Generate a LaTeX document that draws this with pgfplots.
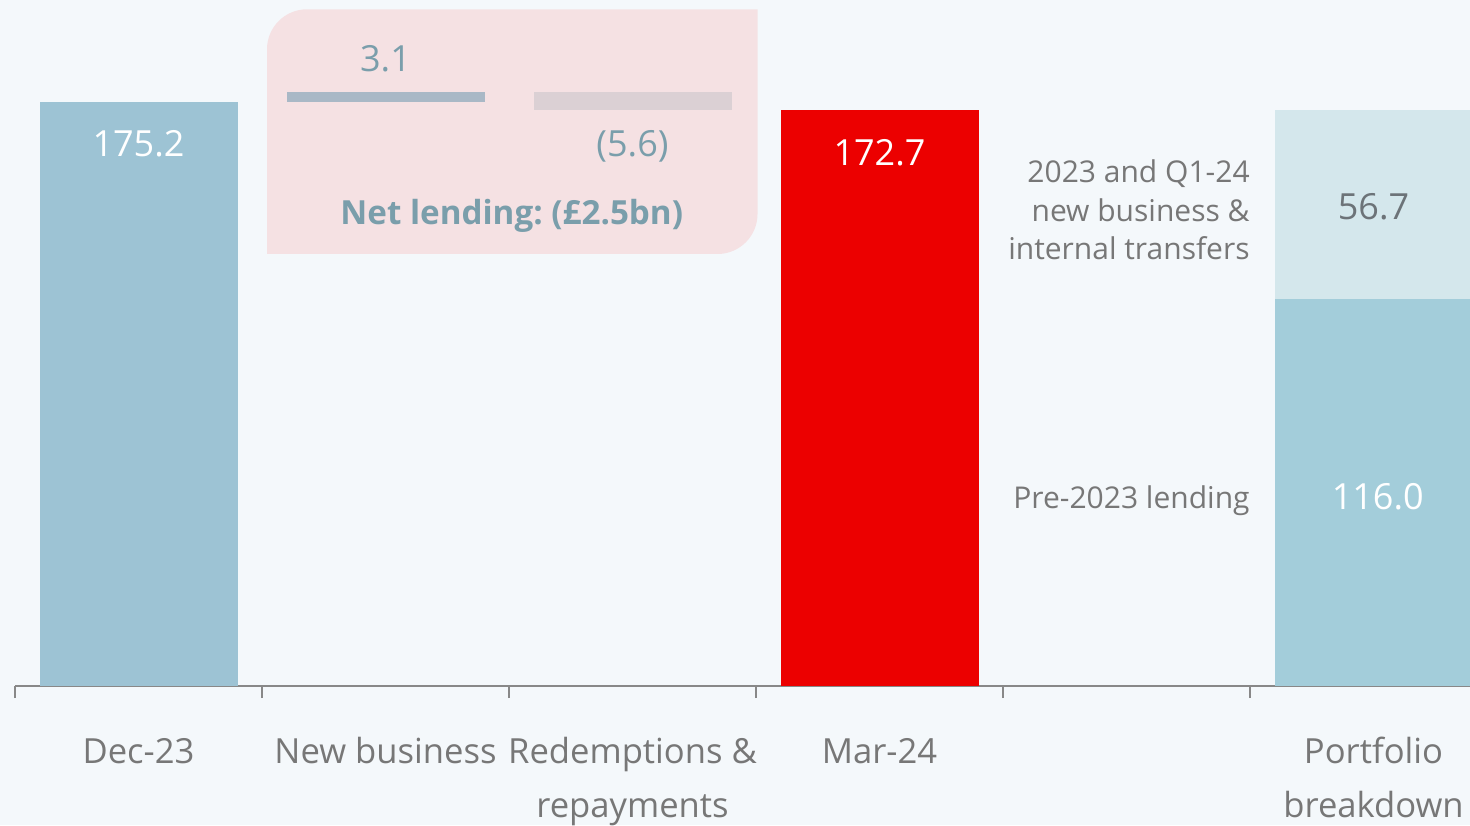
\documentclass[border=0pt]{standalone}
\usepackage{pgfplots}
\usepackage{pgfplotstable}
\pgfplotsset{compat=1.18}
\usepackage{fontspec}
\setmainfont{Open Sans}
\frenchspacing
\definecolor{bg}{HTML}{F4F8FB}
\definecolor{pinkbox}{HTML}{F5E1E3}
\definecolor{decblue}{HTML}{9DC3D4}
\definecolor{nbgray}{HTML}{A9B8C6}
\definecolor{redgray}{HTML}{DBD0D4}
\definecolor{santred}{HTML}{EC0000}
\definecolor{pflow}{HTML}{A3CDDA}
\definecolor{pfup}{HTML}{D4E7EC}
\definecolor{txtgray}{HTML}{777777}
\definecolor{axgray}{HTML}{888888}
\definecolor{tealgray}{HTML}{7A9EAB}
\definecolor{darkgray2}{HTML}{6C7378}
\pgfplotstableread{
x base dec nb red mar pfl pfu
0 0 175.2 0 0 0 0 0
1 175.2 0 3.1 0 0 0 0
2 172.7 0 0 5.6 0 0 0
3 0 0 0 0 172.7 0 0
4 0 0 0 0 0 0 0
5 0 0 0 0 0 116.0 56.7
}\data
\begin{document}
\begin{tikzpicture}
\useasboundingbox (0,0) rectangle (735pt,412.5pt);
\clip (0,0) rectangle (735pt,412.5pt);
\fill[bg] (0,0) rectangle (735pt,412.5pt);
\fill[pinkbox] (133.5pt,285.5pt) -- (133.5pt,387.85pt) arc[start angle=180,end angle=90,radius=20pt] -- (378.75pt,407.85pt) -- (378.75pt,305.5pt) arc[start angle=0,end angle=-90,radius=20pt] -- cycle;
\begin{axis}[
  at={(7.5pt,69.5pt)}, anchor=south west,
  scale only axis, width=727.5pt, height=343pt,
  xmin=-0.5, xmax=5.3907, ymin=0, ymax=205.8,
  ybar stacked, bar width=0.8016,
  axis x line*=bottom, axis y line=none,
  x axis line style={-, draw=axgray, line width=1pt},
  xtick={0,1,2,3,5},
  xticklabels={{\strut Dec-23}, {\strut New business}, {\strut Redemptions \&\\repayments}, {\strut Mar-24}, {\strut Portfolio\\breakdown}},
  minor xtick={-0.5,0.5,1.5,2.5,3.5,4.5},
  major tick length=0pt, minor tick length=6pt, tick align=outside,
  minor tick style={draw=axgray, line width=1pt},
  xticklabel style={anchor=north, inner sep=0pt, yshift=-19.6pt, align=center, text=txtgray, font=\fontsize{17.3}{27}\selectfont},
  clip=false,
]
\addplot[draw=none, fill=none] table[x=x, y=base] {\data};
\addplot[draw=none, fill=decblue] table[x=x, y=dec] {\data};
\addplot[draw=none, fill=nbgray] table[x=x, y=nb] {\data};
\addplot[draw=none, fill=redgray] table[x=x, y=red] {\data};
\addplot[draw=none, fill=santred] table[x=x, y=mar] {\data};
\addplot[draw=none, fill=pflow] table[x=x, y=pfl] {\data};
\addplot[draw=none, fill=pfup] table[x=x, y=pfu] {\data};
\coordinate (l1) at (axis cs:0,158.7);
\coordinate (l2) at (axis cs:3,156.0);
\coordinate (l3) at (axis cs:1,184.3);
\coordinate (l4) at (axis cs:2,158.8);
\coordinate (l5) at (axis cs:1.511,138.3);
\coordinate (l6) at (axis cs:5,139.8);
\coordinate (l7) at (axis cs:5.017,53.1);
\coordinate (l8) at (axis cs:4.5,127.8);
\coordinate (l9) at (axis cs:4.5,53.3);
\end{axis}
\node[anchor=base, text=white, font=\fontsize{18}{22}\selectfont] at (l1) {175.2};
\node[anchor=base, text=white, font=\fontsize{18}{22}\selectfont] at (l2) {172.7};
\node[anchor=base, text=tealgray, font=\fontsize{18}{22}\selectfont] at (l3) {3.1};
\node[anchor=base, text=tealgray, font=\fontsize{18}{22}\selectfont] at (l4) {(5.6)};
\node[anchor=base, text=tealgray, font=\bfseries\fontsize{16.6}{22}\selectfont] at (l5) {Net lending: (£2.5bn)};
\node[anchor=base, text=darkgray2, font=\fontsize{18}{22}\selectfont] at (l6) {56.7};
\node[anchor=base, text=white, font=\fontsize{18}{22}\selectfont] at (l7) {116.0};
\node[anchor=base east, inner sep=0pt, text=txtgray, align=right, font=\fontsize{15}{19.3}\selectfont] at (l8) {2023 and Q1-24\\new business \&\\internal transfers};
\node[anchor=base east, inner sep=0pt, text=txtgray, font=\fontsize{15}{19.3}\selectfont] at (l9) {Pre-2023 lending};
\end{tikzpicture}
\end{document}
